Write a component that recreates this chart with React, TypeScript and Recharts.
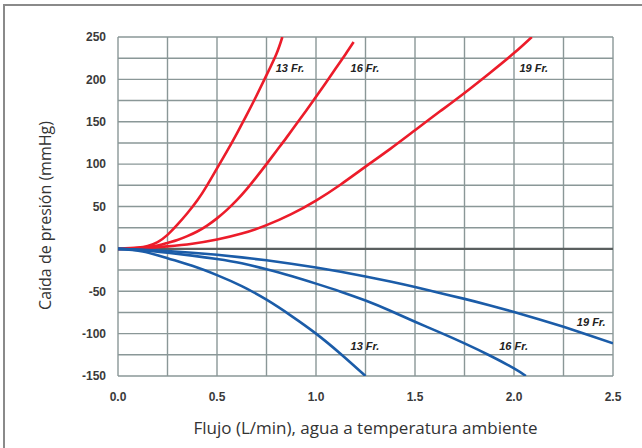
import React from 'react';
import {
  LineChart,
  Line,
  XAxis,
  YAxis,
  CartesianGrid,
  ReferenceLine,
  ReferenceDot,
} from 'recharts';

// Curvas de caída de presión (mmHg) frente a flujo (L/min)
const red13 = [
  { x: 0, y: 0 }, { x: 0.1, y: 1.5 }, { x: 0.15, y: 3.5 }, { x: 0.2, y: 8 },
  { x: 0.25, y: 16.5 }, { x: 0.3, y: 28.5 }, { x: 0.35, y: 42 }, { x: 0.4, y: 57 },
  { x: 0.45, y: 75 }, { x: 0.5, y: 95 }, { x: 0.55, y: 115 }, { x: 0.6, y: 136 },
  { x: 0.65, y: 158 }, { x: 0.7, y: 181 }, { x: 0.75, y: 205 }, { x: 0.8, y: 230 },
  { x: 0.83, y: 250 },
];

const red16 = [
  { x: 0, y: 0 }, { x: 0.1, y: 1 }, { x: 0.2, y: 4 }, { x: 0.25, y: 7 },
  { x: 0.3, y: 10.5 }, { x: 0.35, y: 15 }, { x: 0.4, y: 20.5 }, { x: 0.45, y: 27.5 },
  { x: 0.5, y: 36 }, { x: 0.55, y: 46 }, { x: 0.6, y: 57.5 }, { x: 0.65, y: 70.5 },
  { x: 0.7, y: 85 }, { x: 0.75, y: 100 }, { x: 0.8, y: 115.5 }, { x: 0.85, y: 131 },
  { x: 0.9, y: 147 }, { x: 0.95, y: 163 }, { x: 1.0, y: 179.5 }, { x: 1.05, y: 196 },
  { x: 1.1, y: 213 }, { x: 1.15, y: 230 }, { x: 1.19, y: 244 },
];

const red19 = [
  { x: 0, y: 0 }, { x: 0.125, y: 1 }, { x: 0.25, y: 3 }, { x: 0.375, y: 6 },
  { x: 0.5, y: 11 }, { x: 0.625, y: 18 }, { x: 0.75, y: 28 }, { x: 0.875, y: 41 },
  { x: 1.0, y: 57 }, { x: 1.125, y: 76 }, { x: 1.25, y: 97 }, { x: 1.375, y: 118 },
  { x: 1.5, y: 140 }, { x: 1.625, y: 162 }, { x: 1.75, y: 184 }, { x: 1.875, y: 207 },
  { x: 2.0, y: 231 }, { x: 2.09, y: 250 },
];

const blue13 = [
  { x: 0, y: 0 }, { x: 0.125, y: -3 }, { x: 0.25, y: -11 }, { x: 0.375, y: -20 },
  { x: 0.5, y: -31 }, { x: 0.625, y: -44 }, { x: 0.75, y: -60 }, { x: 0.875, y: -79 },
  { x: 1.0, y: -100 }, { x: 1.125, y: -124 }, { x: 1.25, y: -150 },
];

const blue16 = [
  { x: 0, y: 0 }, { x: 0.125, y: -1.5 }, { x: 0.25, y: -4.5 }, { x: 0.375, y: -8 },
  { x: 0.5, y: -12 }, { x: 0.625, y: -17 }, { x: 0.75, y: -24 }, { x: 0.875, y: -32 },
  { x: 1.0, y: -41 }, { x: 1.125, y: -50.5 }, { x: 1.25, y: -61 }, { x: 1.375, y: -73 },
  { x: 1.5, y: -86 }, { x: 1.625, y: -98.5 }, { x: 1.75, y: -111.5 }, { x: 1.875, y: -125.5 },
  { x: 2.0, y: -141 }, { x: 2.06, y: -150 },
];

const blue19 = [
  { x: 0, y: 0 }, { x: 0.125, y: -1 }, { x: 0.25, y: -2.5 }, { x: 0.375, y: -4.5 },
  { x: 0.5, y: -7 }, { x: 0.625, y: -10 }, { x: 0.75, y: -13.5 }, { x: 0.875, y: -17.5 },
  { x: 1.0, y: -22 }, { x: 1.125, y: -27 }, { x: 1.25, y: -32.5 }, { x: 1.375, y: -38.5 },
  { x: 1.5, y: -45 }, { x: 1.625, y: -52 }, { x: 1.75, y: -59 }, { x: 1.875, y: -66.5 },
  { x: 2.0, y: -74.5 }, { x: 2.125, y: -83 }, { x: 2.25, y: -92 }, { x: 2.375, y: -101.5 },
  { x: 2.5, y: -111.5 },
];

const xTicks = [0, 0.25, 0.5, 0.75, 1, 1.25, 1.5, 1.75, 2, 2.25, 2.5];
const yTicks = [-150, -125, -100, -75, -50, -25, 0, 25, 50, 75, 100, 125, 150, 175, 200, 225, 250];

// Etiquetas de cada curva
const curveLabels = [
  { text: '13 Fr.', x: 0.869, y: 213 },
  { text: '16 Fr.', x: 1.247, y: 213 },
  { text: '19 Fr.', x: 2.1, y: 213 },
  { text: '13 Fr.', x: 1.247, y: -115 },
  { text: '16 Fr.', x: 1.998, y: -115 },
  { text: '19 Fr.', x: 2.39, y: -86 },
];

const RED = '#ec1c2a';
const BLUE = '#1b5ca8';
const GRID = '#8a9797';
const tickStyle = { fontSize: 12, fontWeight: 700, fill: '#3a3a3a', fontFamily: 'Liberation Sans, Arial, sans-serif' };
const titleFont = 'Open Sans, Noto Sans, sans-serif';

const series = [
  { key: 'r13', data: red13, color: RED },
  { key: 'r16', data: red16, color: RED },
  { key: 'r19', data: red19, color: RED },
  { key: 'b13', data: blue13, color: BLUE },
  { key: 'b16', data: blue16, color: BLUE },
  { key: 'b19', data: blue19, color: BLUE },
];

const App: React.FC = () => {
  return (
    <div style={{ position: 'absolute', left: 0, top: 0, width: 642, height: 448, background: '#fff', overflow: 'hidden' }}>
      <div
        style={{
          position: 'absolute',
          left: 3,
          top: 4,
          width: 660,
          height: 460,
          borderTop: '2px solid #8a8a8a',
          borderLeft: '2px solid #8a8a8a',
        }}
      />
      <div style={{ position: 'absolute', left: 0, top: 0 }}>
        <LineChart width={642} height={448} margin={{ top: 37, right: 29, bottom: 42, left: 58 }}>
          <CartesianGrid stroke={GRID} strokeWidth={1.4} />
          <XAxis
            dataKey="x"
            type="number"
            domain={[0, 2.5]}
            ticks={xTicks}
            tickFormatter={(v: number) => (Math.abs((v * 2) % 1) < 1e-9 ? v.toFixed(1) : '')}
            tick={tickStyle}
            tickSize={0}
            tickMargin={16}
            axisLine={false}
            height={30}
            allowDataOverflow
            label={{
              content: (props: any) => {
                const vb = props.viewBox;
                return (
                  <text
                    x={vb.x + vb.width / 2}
                    y={vb.y + 51}
                    textAnchor="middle"
                    dominantBaseline="central"
                    fontSize={17}
                    fontFamily={titleFont}
                    fill="#333"
                  >
                    Flujo (L/min), agua a temperatura ambiente
                  </text>
                );
              },
            }}
          />
          <YAxis
            type="number"
            domain={[-150, 250]}
            ticks={yTicks}
            tickFormatter={(v: number) => (v % 50 === 0 ? String(v) : '')}
            tick={tickStyle}
            tickSize={0}
            tickMargin={12}
            axisLine={false}
            width={60}
            allowDataOverflow
            label={{
              content: (props: any) => {
                const vb = props.viewBox;
                const cx = vb.x - 13;
                const cy = vb.y + vb.height / 2 + 9;
                return (
                  <text
                    x={cx}
                    y={cy}
                    transform={`rotate(-90, ${cx}, ${cy})`}
                    textAnchor="middle"
                    dominantBaseline="central"
                    fontSize={16}
                    fontFamily={titleFont}
                    fill="#333"
                  >
                    Caída de presión (mmHg)
                  </text>
                );
              },
            }}
          />
          <ReferenceLine y={0} stroke="#5a5f5f" strokeWidth={2.2} />
          {series.map((s) => (
            <Line
              key={s.key}
              data={s.data}
              dataKey="y"
              type="natural"
              stroke={s.color}
              strokeWidth={2.6}
              dot={false}
              activeDot={false}
              isAnimationActive={false}
            />
          ))}
          {curveLabels.map((l, i) => (
            <ReferenceDot
              key={i}
              x={l.x}
              y={l.y}
              r={0}
              fill="none"
              stroke="none"
              label={{
                content: (props: any) => {
                  const vb = props.viewBox;
                  return (
                    <text
                      x={vb.x + vb.width / 2}
                      y={vb.y + vb.height / 2}
                      textAnchor="middle"
                      dominantBaseline="central"
                      fontSize={11}
                      fontWeight={700}
                      fontStyle="italic"
                      fontFamily="Liberation Sans, Arial, sans-serif"
                      fill="#222"
                    >
                      {l.text}
                    </text>
                  );
                },
              }}
            />
          ))}
        </LineChart>
      </div>
    </div>
  );
};

export default App;
